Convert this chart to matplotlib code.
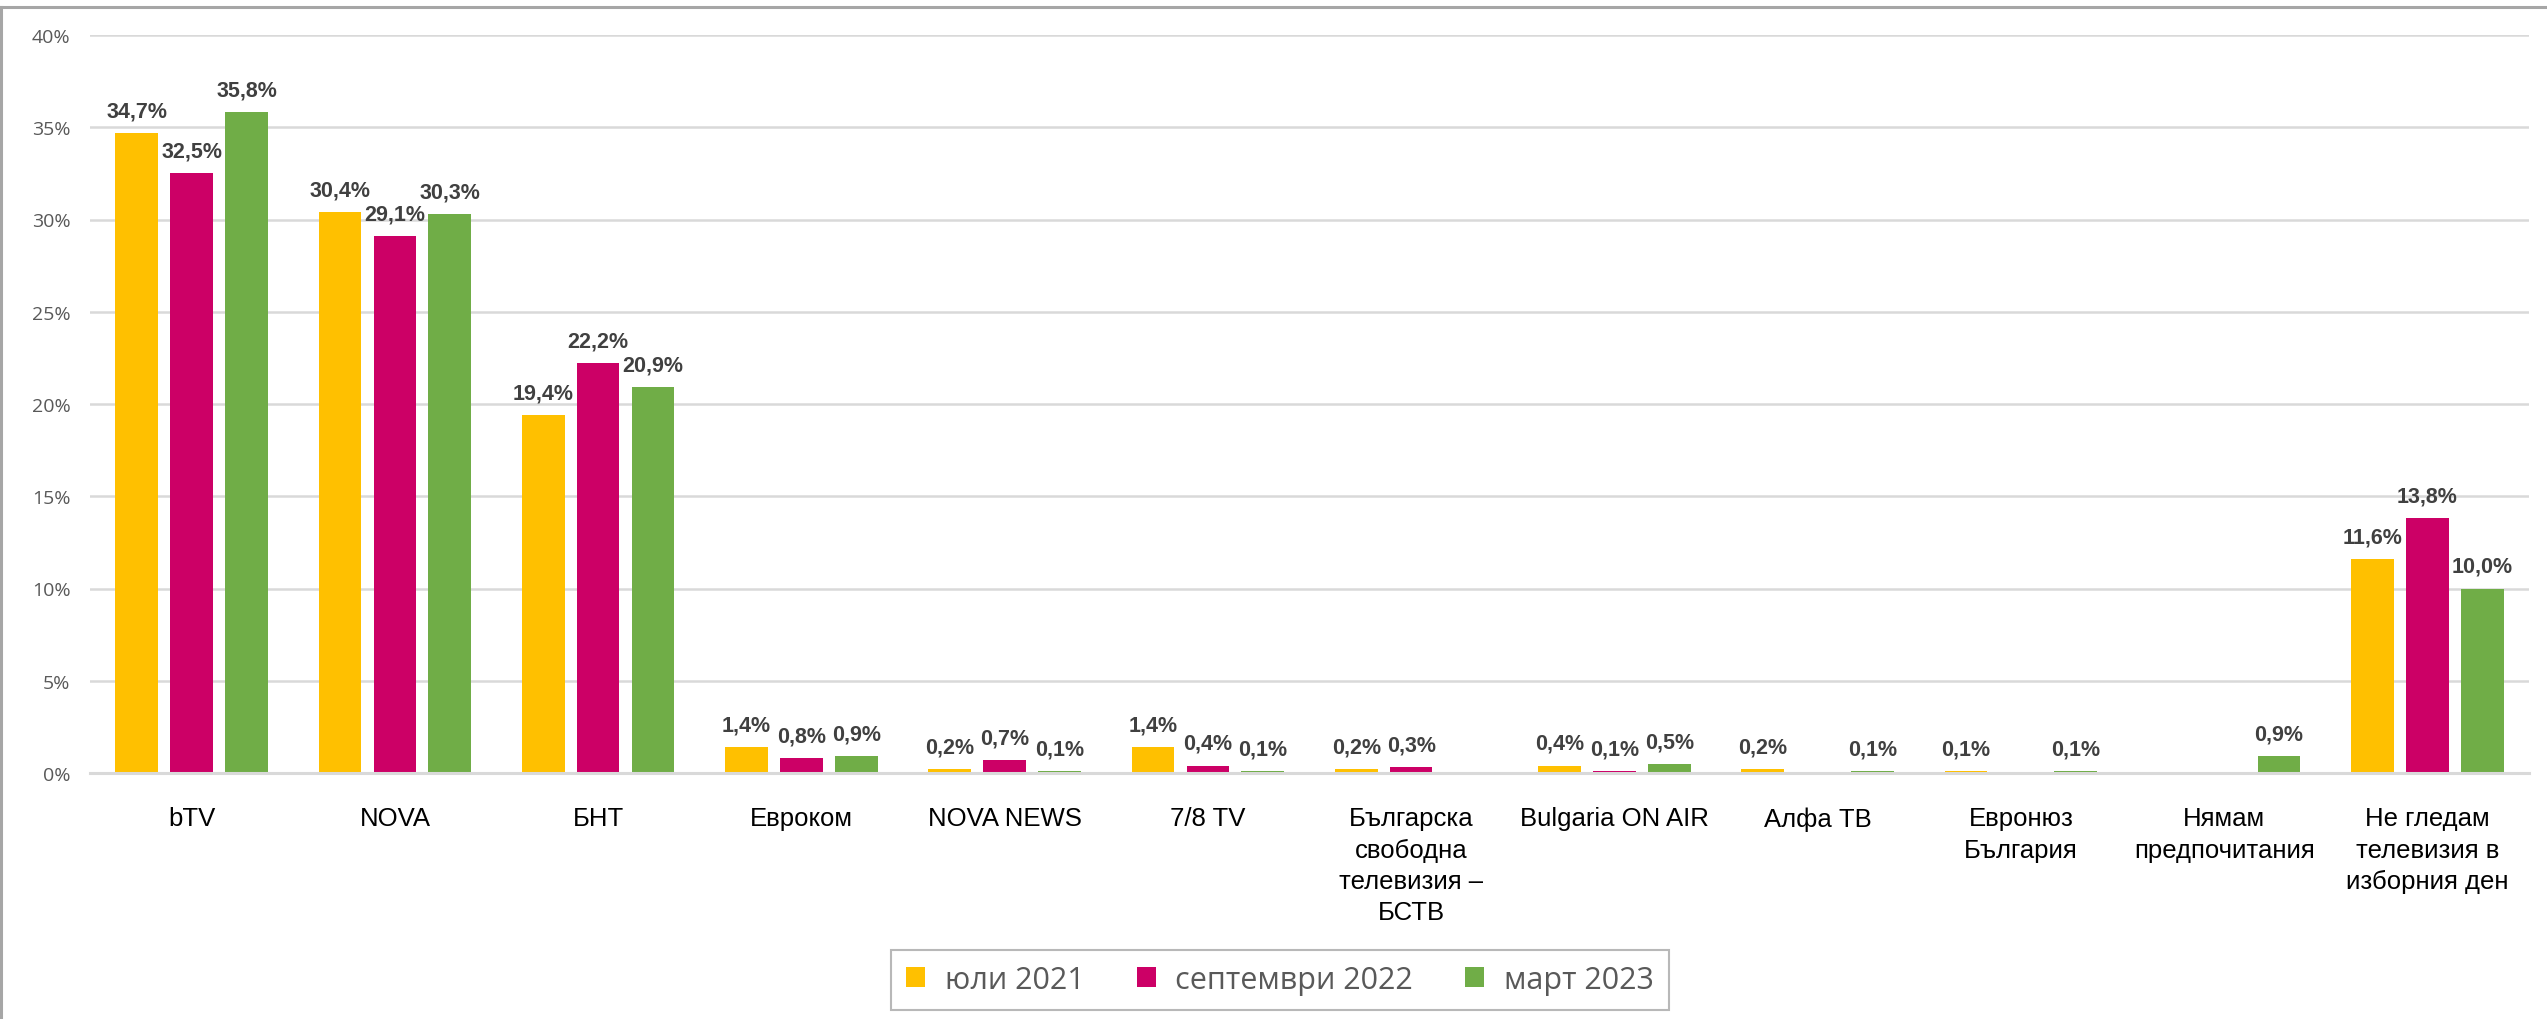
import numpy as np
import matplotlib.pyplot as plt
from matplotlib.lines import Line2D
from matplotlib.patches import Patch

categories = ["bTV", "NOVA", "БНТ", "Евроком", "NOVA NEWS", "7/8 TV",
              "Българска\nсвободна\nтелевизия –\nБСТВ", "Bulgaria ON AIR", "Алфа ТВ",
              "Евронюз\nБългария", "Нямам\nпредпочитания", "Не гледам\nтелевизия в\nизборния ден"]

jul_2021 = [34.7, 30.4, 19.4, 1.4, 0.2, 1.4, 0.2, 0.4, 0.2, 0.1, np.nan, 11.6]
sep_2022 = [32.5, 29.1, 22.2, 0.8, 0.7, 0.4, 0.3, 0.1, np.nan, np.nan, np.nan, 13.8]
mar_2023 = [35.8, 30.3, 20.9, 0.9, 0.1, 0.1, np.nan, 0.5, 0.1, 0.1, 0.9, 10.0]

series_names = ["юли 2021", "септември 2022", "март 2023"]
colors = ["#FFC000", "#CC0066", "#70AD47"]

narrow = ["Liberation Sans", "DejaVu Sans"]
body = ["Open Sans", "DejaVu Sans"]

fig = plt.figure(figsize=(25.47, 10.20), dpi=100)
ax = fig.add_axes([90 / 2547, 246 / 1020, 2439 / 2547, 738 / 1020])

x = np.arange(len(categories))
offsets = [-0.27, 0.0, 0.27]
width = 0.21

for values, off, color in zip([jul_2021, sep_2022, mar_2023], offsets, colors):
    ax.bar(x + off, values, width, color=color, zorder=1)
    for xi, v in zip(x, values):
        if np.isnan(v):
            continue
        ax.annotate(f"{v:.1f}%".replace(".", ","), (xi + off, v),
                    xytext=(0, 12), textcoords="offset points",
                    ha="center", va="baseline", fontsize=15.5, fontweight="bold",
                    color="#404040", family=narrow)

ax.set_xlim(-0.5, len(categories) - 0.5)
ax.set_ylim(0, 40)
ax.set_yticks(np.arange(0, 41, 5))
ax.set_yticklabels([f"{t}%" for t in range(0, 41, 5)], family=body, fontsize=14, color="#595959")
ax.set_xticks(x)
ax.set_xticklabels(categories, family=narrow, fontsize=18.5, color="black", linespacing=1.38)
ax.tick_params(axis="both", length=0)
ax.tick_params(axis="y", pad=14)
ax.tick_params(axis="x", pad=24)

ax.grid(axis="y", color="#d9d9d9", linewidth=1.8)
ax.set_axisbelow(True)
for side in ["top", "right", "left"]:
    ax.spines[side].set_visible(False)
ax.spines["bottom"].set_color("#d9d9d9")
ax.spines["bottom"].set_linewidth(2.2)

handles = [Patch(facecolor=c, edgecolor="none") for c in colors]
leg = fig.legend(handles, series_names, loc="center", bbox_to_anchor=(1280 / 2547, 39 / 1020),
                 ncol=3, frameon=True, fancybox=False, handlelength=0.62, handleheight=0.62,
                 handletextpad=0.65, columnspacing=1.7, borderpad=0.5,
                 prop={"family": body, "size": 22})
leg.get_frame().set_edgecolor("#a6a6a6")
leg.get_frame().set_linewidth(1.5)
for t in leg.get_texts():
    t.set_color("#595959")

# outer chart border, only top and left are in the picture
fig.add_artist(Line2D([0, 1], [1 - 8 / 1020, 1 - 8 / 1020], color="#a6a6a6", linewidth=2.2))
fig.add_artist(Line2D([1.5 / 2547, 1.5 / 2547], [0, 1 - 8 / 1020], color="#a6a6a6", linewidth=2.2))

fig.savefig("out.png", dpi=100)
